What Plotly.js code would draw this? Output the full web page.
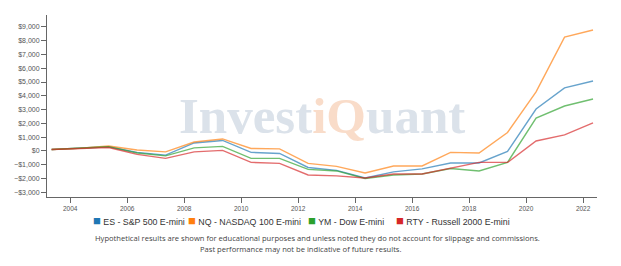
<!DOCTYPE html>
<html>
<head>
<meta charset="utf-8">
<script src="https://cdn.plot.ly/plotly-3.0.1.min.js"></script>
<style>
html,body{margin:0;padding:0;background:#fff;}
#chart{width:621px;height:266px;}
</style>
</head>
<body>
<div id="chart"></div>
<script>
// ---- data ----
const dates = ["2003-05-08","2004-05-08","2005-05-08","2006-05-08","2007-05-08","2008-05-08","2009-05-08",
  "2010-05-08","2011-05-08","2012-05-08","2013-05-08","2014-05-08","2015-05-08","2016-05-08","2017-05-08",
  "2018-05-08","2019-05-08","2020-05-08","2021-05-08","2022-05-08"];
const seriesNames = ["ES - S&P 500 E-mini","NQ - NASDAQ 100 E-mini","YM - Dow E-mini","RTY - Russell 2000 E-mini"];
const seriesColors = ["#1f77b4","#ff7f0e","#2ca02c","#d62728"];
const esValues  = [100,200,300,-100,-300,580,760,-100,-180,-1200,-1410,-1960,-1520,-1300,-870,-870,-40,3040,4570,5070];
const nqValues  = [100,200,360,70,-70,650,870,180,150,-900,-1120,-1600,-1090,-1090,-100,-150,1340,4280,8260,8770];
const ymValues  = [100,200,300,-150,-360,220,330,-540,-540,-1340,-1450,-2000,-1740,-1670,-1270,-1450,-830,2390,3260,3770];
const rtyValues = [100,200,250,-250,-540,-70,40,-830,-900,-1740,-1810,-1960,-1670,-1670,-1230,-830,-830,720,1160,2030];
const yTickVals = [-3000,-2000,-1000,0,1000,2000,3000,4000,5000,6000,7000,8000,9000];
const footerLines = [
  "Hypothetical results are shown for educational purposes and unless noted they do not account for slippage and commissions.",
  "Past performance may not be indicative of future results."
];
const allValues = [esValues, nqValues, ymValues, rtyValues];

// ---- traces ----
const traces = allValues.map((vals, i) => ({
  type: "scatter",
  mode: "lines",
  x: dates,
  y: vals,
  name: seriesNames[i],
  line: {color: seriesColors[i], width: 1.4},
  opacity: 0.68,
  showlegend: false,
  hoverinfo: "skip"
}));

// legend built as annotations (square + label)
const legendX = [91, 186, 306, 394];
const plotL = 47, plotW = 550, plotB = 197, plotH = 182;
const px2x = p => (p - plotL) / plotW;
const px2y = p => (plotB - p) / plotH;

const annotations = [];
seriesNames.forEach((n, i) => {
  annotations.push({
    xref: "paper", yref: "paper",
    x: px2x(legendX[i]), y: px2y(220),
    xanchor: "left", yanchor: "middle",
    showarrow: false,
    text: '<span style="color:' + seriesColors[i] + ';font-size:13px">■</span> ' + n,
    font: {family: "Liberation Sans, Arial, sans-serif", size: 8.8, color: "#333"}
  });
});
annotations.push({
  xref: "paper", yref: "paper",
  x: px2x(317), y: px2y(238),
  xanchor: "center", yanchor: "middle", showarrow: false,
  text: footerLines[0],
  font: {family: "Open Sans, sans-serif", size: 7.6, color: "#444"}
});
annotations.push({
  xref: "paper", yref: "paper",
  x: px2x(300), y: px2y(249),
  xanchor: "center", yanchor: "middle", showarrow: false,
  text: footerLines[1],
  font: {family: "Open Sans, sans-serif", size: 7.6, color: "#444"}
});
// watermark
annotations.push({
  xref: "paper", yref: "paper",
  x: px2x(322), y: px2y(116),
  xanchor: "center", yanchor: "middle", showarrow: false,
  text: '<b>Invest<span style="color:#f9dcc9">iQ</span>uant</b>',
  font: {family: "Liberation Serif, DejaVu Serif, serif", size: 51, color: "#dbe2ea"}
});

const layout = {
  width: 621, height: 266,
  margin: {l: plotL, r: 621 - plotL - plotW, t: 15, b: 266 - plotB},
  paper_bgcolor: "#fff", plot_bgcolor: "#fff",
  showlegend: false,
  xaxis: {
    type: "date",
    range: ["2003-03-10", "2022-06-28"],
    tick0: "2004-01-01", dtick: "M24", tickformat: "%Y",
    showgrid: false, zeroline: false,
    showline: true, linecolor: "#666", linewidth: 1,
    ticks: "outside", ticklen: 5, tickcolor: "#666",
    tickfont: {family: "Liberation Sans, Arial, sans-serif", size: 6.5, color: "#555"}
  },
  yaxis: {
    range: [-3340, 9860],
    tickvals: yTickVals,
    tickformat: "$,.0f",
    showgrid: false, zeroline: false,
    showline: true, linecolor: "#666", linewidth: 1,
    ticks: "outside", ticklen: 5, tickcolor: "#666",
    tickfont: {family: "Liberation Sans, Arial, sans-serif", size: 7, color: "#555"}
  },
  annotations: annotations
};

Plotly.newPlot("chart", traces, layout, {displayModeBar: false, staticPlot: true});
</script>
</body>
</html>
